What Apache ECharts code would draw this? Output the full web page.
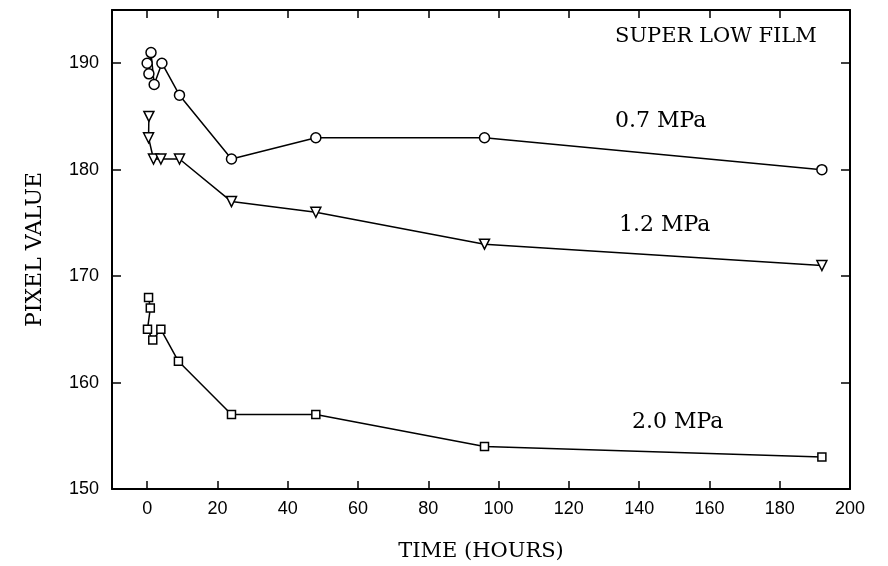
<!DOCTYPE html>
<html><head><meta charset="utf-8">
<script src="https://cdn.jsdelivr.net/npm/echarts@6/dist/echarts.min.js"></script>
<style>html,body{margin:0;padding:0;background:#fff}#c{width:888px;height:566px}</style>
</head><body><div id="c"></div>
<script>
const xTicks = [0,20,40,60,80,100,120,140,160,180,200];
const yTicks = [150,160,170,180,190];
const s07 = [[0,190],[0.5,189],[1.1,191],[2,188],[4.2,190],[9.2,187],[24,181],[48,183],[96,183],[192,180]];
const s12 = [[0.5,185],[0.4,183],[1.8,181],[3.9,181],[9.2,181],[24,177],[48,176],[96,173],[192,171]];
const s20 = [[0.4,168],[0.9,167],[0.1,165],[1.6,164],[3.9,165],[8.9,162],[24,157],[48,157],[96,154],[192,153]];
const seriesNames = ['0.7 MPa','1.2 MPa','2.0 MPa'];
const SERIF = 'DejaVu Serif';
const SANS = 'Liberation Sans';
const chart = echarts.init(document.getElementById('c'));
const lineStyle = {color:'#000', width:1.5};
const itemStyle = {color:'#fff', borderColor:'#000', borderWidth:1.5};
function mk(name, data, symbol, size, rot){
  return {name, type:'line', data, symbol, symbolSize:size, symbolRotate:rot||0,
    lineStyle, itemStyle, showAllSymbol:true, animation:false, z:3};
}
const tickStyle = {color:'#000',width:1.5};
const axisLine = {show:true,onZero:false,lineStyle:{color:'#000',width:2}};
chart.setOption({
  backgroundColor:'#fff',
  animation:false,
  grid:{left:112,right:38,top:10,bottom:77,show:false,containLabel:false,outerBoundsMode:'none'},
  xAxis:[{
    type:'value', min:-10, max:200, position:'bottom',
    name:'TIME (HOURS)', nameLocation:'middle', nameGap:52,
    nameTextStyle:{fontFamily:SERIF,fontSize:21,color:'#000'},
    axisLine,
    axisTick:{show:true,inside:true,length:8,lineStyle:tickStyle,customValues:xTicks},
    axisLabel:{customValues:xTicks,fontFamily:SANS,fontSize:18,color:'#000',margin:11},
    splitLine:{show:false}
  },{
    type:'value', min:-10, max:200, position:'top',
    axisLine,
    axisTick:{show:true,inside:true,length:8,lineStyle:tickStyle,customValues:xTicks},
    axisLabel:{show:false}, splitLine:{show:false}
  }],
  yAxis:[{
    type:'value', min:150, max:195, position:'left',
    name:'PIXEL VALUE', nameLocation:'middle', nameGap:66, nameRotate:90,
    nameTextStyle:{fontFamily:SERIF,fontSize:22,color:'#000'},
    axisLine,
    axisTick:{show:true,inside:true,length:9,lineStyle:tickStyle,customValues:yTicks},
    axisLabel:{customValues:yTicks,fontFamily:SANS,fontSize:18,color:'#000',margin:13},
    splitLine:{show:false}
  },{
    type:'value', min:150, max:195, position:'right',
    axisLine,
    axisTick:{show:true,inside:true,length:9,lineStyle:tickStyle,customValues:yTicks},
    axisLabel:{show:false}, splitLine:{show:false}
  }],
  series:[
    mk(seriesNames[0], s07, 'circle', 10),
    mk(seriesNames[1], s12, 'triangle', 10, 180),
    mk(seriesNames[2], s20, 'rect', 8)
  ],
  graphic:[
    {type:'text', left:615, top:26, style:{text:'SUPER LOW FILM', font:'21px "DejaVu Serif"', fill:'#000'}},
    {type:'text', left:615, top:110, style:{text:'0.7 MPa', font:'22px "DejaVu Serif"', fill:'#000'}},
    {type:'text', left:619, top:214, style:{text:'1.2 MPa', font:'22px "DejaVu Serif"', fill:'#000'}},
    {type:'text', left:632, top:411, style:{text:'2.0 MPa', font:'22px "DejaVu Serif"', fill:'#000'}}
  ]
});
</script></body></html>
